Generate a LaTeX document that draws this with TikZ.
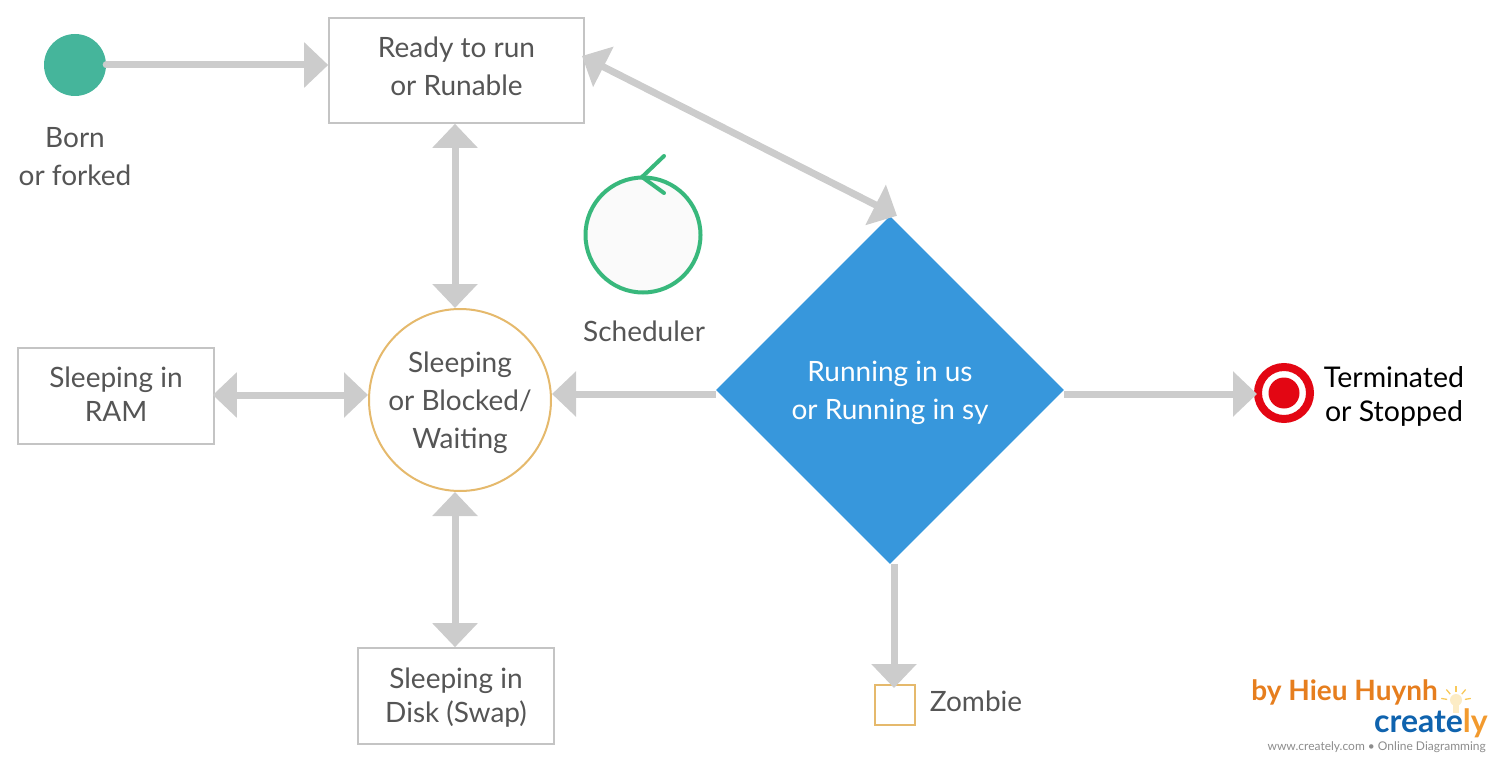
\documentclass[tikz,border=0pt]{standalone}
\usepackage{fontspec}
\setmainfont{Lato}
\usetikzlibrary{arrows.meta,shapes.geometric}
\definecolor{linegray}{HTML}{CCCCCC}
\definecolor{textgray}{HTML}{555555}
\definecolor{boxgray}{HTML}{C4C4C4}
\definecolor{sandline}{HTML}{E5B96C}
\definecolor{bornteal}{HTML}{45B59B}
\definecolor{schedgreen}{HTML}{38B87C}
\definecolor{runblue}{HTML}{3797DC}
\definecolor{targetred}{HTML}{E30613}
\definecolor{byorange}{HTML}{E67E1E}
\definecolor{logoblue}{HTML}{0F63AE}
\definecolor{logoorange}{HTML}{F29A2E}
\definecolor{bulbyellow}{HTML}{F8C95A}
\tikzset{
    label text/.style={text=textgray, align=center, font=\fontsize{28}{38}\selectfont},
    state box/.style={draw=boxgray, line width=1.6pt, fill=white, inner sep=0pt, label text},
    flow/.style={draw=linegray, line width=7pt, -{Triangle[length=24pt,width=44pt]}},
    flow both/.style={draw=linegray, line width=7pt, {Triangle[length=24pt,width=44pt]}-{Triangle[length=24pt,width=44pt]}},
}
\begin{document}
\begin{tikzpicture}[x=1pt,y=-1pt]
    \useasboundingbox (0,0) rectangle (1500,760);

    % states
    \node[circle, fill=bornteal, minimum size=62pt, inner sep=0pt] (born) at (75,65) {};
    \node[label text] (bornlabel) at (75,157) {Born\\or forked};
    \node[state box, minimum width=255pt, minimum height=105pt, text depth=8pt] (ready) at (456.5,70.5) {Ready to run\\or Runable};
    \node[circle, draw=sandline, line width=2pt, fill=white, minimum size=182pt, inner sep=0pt, label text, text depth=-6pt] (sleeping) at (460,400) {Sleeping\\or Blocked/\\Waiting};
    \node[state box, minimum width=196pt, minimum height=96pt, font=\fontsize{28}{34}\selectfont, text depth=4pt] (ram) at (116,396) {Sleeping in\\RAM};
    \node[state box, minimum width=196pt, minimum height=96pt, font=\fontsize{28}{34}\selectfont, text depth=2pt] (disk) at (456,696) {Sleeping in\\Disk (Swap)};
    \node[diamond, fill=runblue, minimum width=348pt, minimum height=348pt, inner sep=0pt, text=white, align=center, font=\fontsize{28}{38}\selectfont, text depth=-6pt] (running) at (890,390) {Running in us\\or Running in sy};

    % scheduler
    \node[circle, draw=schedgreen, line width=4pt, fill=black!2, minimum size=115pt, inner sep=0pt] (sched) at (643,235) {};
    \coordinate (schedtop) at (642,177);
    \coordinate (schedup) at (664,156); \coordinate (scheddown) at (664,193);
    \draw[schedgreen, line width=4pt, line cap=round] (schedup)--(schedtop)--(scheddown);
    \node[label text] (schedlabel) at (644,331) {Scheduler};

    % end states
    \node[circle, draw=targetred, line width=8pt, fill=white, minimum size=52pt, inner sep=0pt] (target) at (1284,393) {};
    \node[circle, fill=targetred, minimum size=31pt, inner sep=0pt] (targetdot) at (target) {};
    \node[align=center, font=\fontsize{28.5}{34}\selectfont, text=black] (stopped) at (1394,396) {Terminated\\or Stopped};
    \node[draw=sandline, line width=2pt, fill=white, minimum size=40pt, inner sep=0pt] (zombie) at (895,705) {};
    \node[label text] (zombielabel) at (976,701) {Zombie};

    % connectors
    \draw[flow, line cap=round] (born.east) -- (born.east -| ready.west);
    \draw[flow both] ([xshift=-2.8pt,yshift=14.5pt]ready.east) -- ([xshift=7pt]running.north);
    \draw[flow both] ([xshift=-1.5pt]ready.south) -- ([xshift=-5pt]sleeping.north);
    \draw[flow both] ([xshift=-2pt,yshift=1pt]ram.east) -- ([yshift=5pt]sleeping.west);
    \draw[flow both] ([xshift=-1pt]disk.north) -- ([xshift=-5pt]sleeping.south);
    \draw[flow] ([yshift=-4pt]running.west) -- ([yshift=6pt]sleeping.east);
    \draw[flow] ([yshift=-4pt]running.east) -- ([xshift=3pt,yshift=-1pt]target.west);
    \draw[flow] ([xshift=4pt]running.south) -- ([xshift=-1pt,yshift=-4pt]zombie.north);

    % logo
    \fill[bulbyellow!35] (1456,700) circle (6pt);
    \fill[bulbyellow!35] (1453,704) rectangle (1459,713);
    \foreach \a in {10,50,90,130,170}
        \draw[bulbyellow, line width=1.3pt] (1456,701) ++(\a:9pt) -- ++(\a:6pt);
    \node[font=\fontsize{28}{30}\selectfont\bfseries, text=byorange, anchor=east, inner sep=0pt] (by) at (1438,692) {by Hieu Huynh};
    \node[font=\fontsize{32}{36}\selectfont\bfseries, text=logoblue, anchor=east, inner sep=0pt] (logo) at (1488,723) {create\textcolor{logoorange}{ly}};
    \node[font=\fontsize{12}{14}\selectfont, text=black!45, anchor=east, inner sep=0pt] (web) at (1486,747) {www.creately.com \textbullet\ Online Diagramming};
\end{tikzpicture}
\end{document}
